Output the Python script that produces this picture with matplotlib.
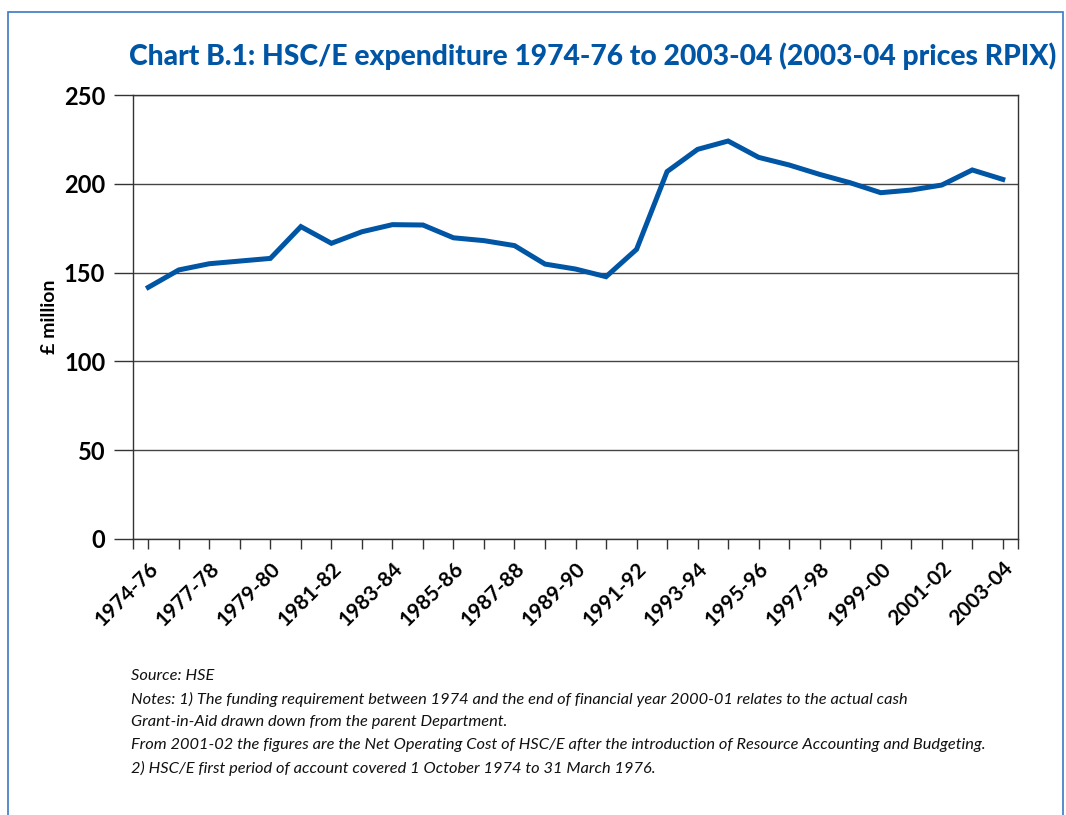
import matplotlib.pyplot as plt
from matplotlib.patches import Rectangle

# Data (2003-04 prices RPIX, £ million)
years = ["1974-76", "1976-77", "1977-78", "1978-79", "1979-80", "1980-81", "1981-82",
         "1982-83", "1983-84", "1984-85", "1985-86", "1986-87", "1987-88", "1988-89",
         "1989-90", "1990-91", "1991-92", "1992-93", "1993-94", "1994-95", "1995-96",
         "1996-97", "1997-98", "1998-99", "1999-00", "2000-01", "2001-02", "2002-03",
         "2003-04"]
spend = [141.7, 151.5, 155.0, 156.5, 158.0, 175.9, 166.5, 173.0, 177.0, 176.8,
         169.6, 168.0, 165.2, 154.8, 152.0, 147.7, 163.1, 206.9, 219.4, 224.1,
         214.9, 210.6, 205.3, 200.6, 195.0, 196.5, 199.3, 207.8, 202.5]
yticks = [0, 50, 100, 150, 200, 250]

title = "Chart B.1: HSC/E expenditure 1974-76 to 2003-04 (2003-04 prices RPIX)"
notes = ["Source: HSE",
         "Notes: 1) The funding requirement between 1974 and the end of financial year 2000-01 relates to the actual cash",
         "Grant-in-Aid drawn down from the parent Department.",
         "From 2001-02 the figures are the Net Operating Cost of HSC/E after the introduction of Resource Accounting and Budgeting.",
         "2) HSC/E first period of account covered 1 October 1974 to 31 March 1976."]

blue = "#0055a4"
plt.rcParams["font.family"] = ["Lato", "DejaVu Sans"]

fig = plt.figure(figsize=(10.66, 8.15), dpi=100)
ax = fig.add_axes([0.1248, 0.3387, 0.8302, 0.5447])

x = list(range(len(years)))
ax.plot(x, spend, color=blue, linewidth=3.6, solid_joinstyle="miter")

ax.set_xlim(-0.5, len(years) - 0.5)
ax.set_ylim(0, 250)
ax.set_yticks(yticks)
ax.set_yticklabels([str(v) for v in yticks], fontsize=17, fontweight="bold")
ax.tick_params(axis="y", length=14, width=1, color="#333333", pad=6)
ax.yaxis.grid(True, color="#444444", linewidth=1)
ax.set_axisbelow(True)

# ticks at every year plus both ends of the axis; labels every other year
ax.set_xticks([-0.5] + x + [len(years) - 0.5])
ax.set_xticklabels([""] + [y if i % 2 == 0 else "" for i, y in enumerate(years)] + [""],
                   rotation=45, ha="right", rotation_mode="anchor",
                   fontsize=15, fontweight="bold")
ax.tick_params(axis="x", length=7, width=1, color="#333333", pad=7)

for s in ax.spines.values():
    s.set_color("#333333")
    s.set_linewidth(1)

ax.set_ylabel("£ million", fontsize=14, fontweight="bold", labelpad=4)

fig.text(0.991, 0.931, title, fontsize=20.3, fontweight="black", color=blue,
         ha="right", va="center")

for i, line in enumerate(notes):
    fig.text(0.123, 1 - (676 + 23 * i) / 815, line, fontsize=11.8, style="italic",
             ha="left", va="center", color="#111111")

fig.patches.append(Rectangle((0.0075, -0.05), 0.9895, 1.035, transform=fig.transFigure,
                             fill=False, edgecolor="#3a78c2", linewidth=1.2))

fig.savefig("out.png", dpi=100)
